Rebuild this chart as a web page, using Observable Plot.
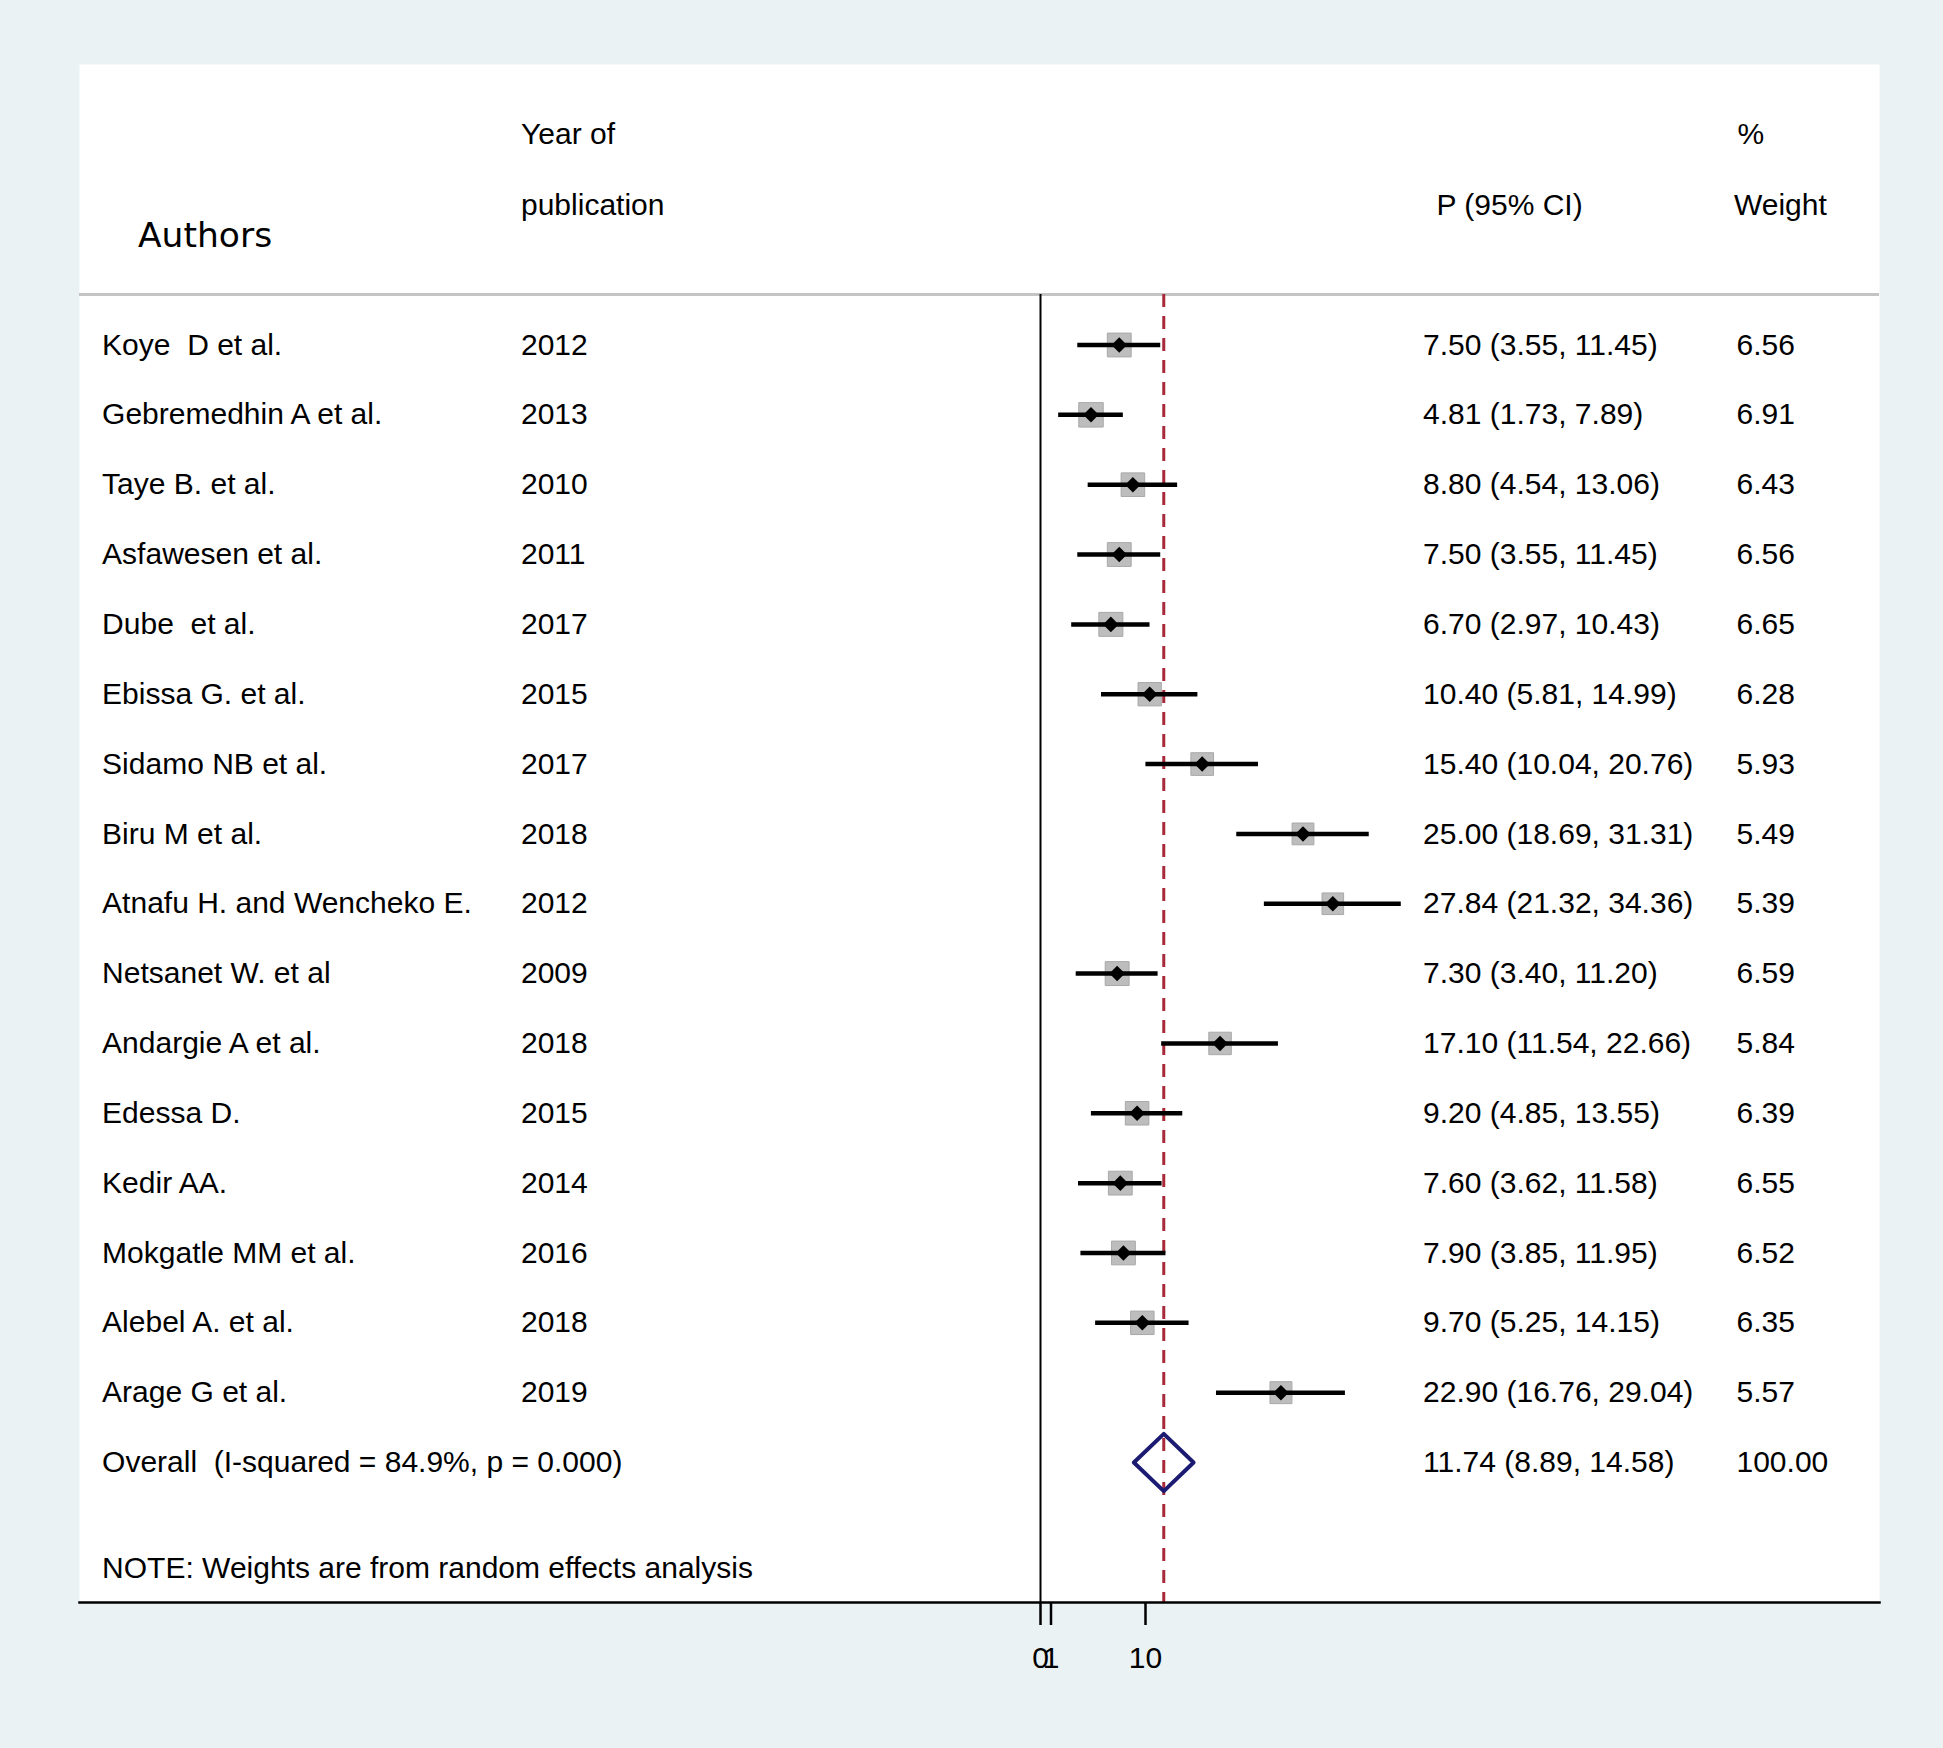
<!DOCTYPE html>
<html>
<head>
<meta charset="utf-8">
<script src="https://cdn.jsdelivr.net/npm/d3@7"></script>
<script src="https://cdn.jsdelivr.net/npm/@observablehq/plot@0.6"></script>
<style>
html, body { margin: 0; padding: 0; background: #eaf2f3; }
#chart svg text { white-space: pre; }
</style>
</head>
<body>
<div id="chart"></div>
<script>
// ---- data ----
const authors = ["Koye  D et al.", "Gebremedhin A et al.", "Taye B. et al.", "Asfawesen et al.", "Dube  et al.",
  "Ebissa G. et al.", "Sidamo NB et al.", "Biru M et al.", "Atnafu H. and Wencheko E.", "Netsanet W. et al",
  "Andargie A et al.", "Edessa D.", "Kedir AA.", "Mokgatle MM et al.", "Alebel A. et al.", "Arage G et al."];
const years = [2012, 2013, 2010, 2011, 2017, 2015, 2017, 2018, 2012, 2009, 2018, 2015, 2014, 2016, 2018, 2019];
const est = [7.50, 4.81, 8.80, 7.50, 6.70, 10.40, 15.40, 25.00, 27.84, 7.30, 17.10, 9.20, 7.60, 7.90, 9.70, 22.90];
const lo  = [3.55, 1.73, 4.54, 3.55, 2.97, 5.81, 10.04, 18.69, 21.32, 3.40, 11.54, 4.85, 3.62, 3.85, 5.25, 16.76];
const hi  = [11.45, 7.89, 13.06, 11.45, 10.43, 14.99, 20.76, 31.31, 34.36, 11.20, 22.66, 13.55, 11.58, 11.95, 14.15, 29.04];
const weights = [6.56, 6.91, 6.43, 6.56, 6.65, 6.28, 5.93, 5.49, 5.39, 6.59, 5.84, 6.39, 6.55, 6.52, 6.35, 5.57];

const overallEst = 11.74, overallLo = 8.89, overallHi = 14.58, overallWeight = 100.00;
const iSquared = 84.9, pValue = "0.000";
const xTicks = [0, 1, 10];
const headerYear = ["Year of", "publication"];
const headerAuthors = "Authors";
const headerCI = "P (95% CI)";
const headerWeight = ["%", "Weight"];
const noteText = "NOTE: Weights are from random effects analysis";

// ---- derived table ----
const fmt = v => v.toFixed(2);
const rows = authors.map((a, i) => ({
  i, author: a, year: String(years[i]), est: est[i], lo: lo[i], hi: hi[i], w: weights[i],
  ci: `${fmt(est[i])} (${fmt(lo[i])}, ${fmt(hi[i])})`, wt: fmt(weights[i])
}));
const oRow = authors.length;
const overall = [{
  i: oRow, label: `Overall  (I-squared = ${iSquared}%, p = ${pValue})`,
  ci: `${fmt(overallEst)} (${fmt(overallLo)}, ${fmt(overallHi)})`, wt: fmt(overallWeight)
}];
const dh = 0.41; // half-height of the summary diamond (row units)
const diamond = [
  {x: overallLo, y: oRow}, {x: overallEst, y: oRow - dh}, {x: overallHi, y: oRow},
  {x: overallEst, y: oRow + dh}, {x: overallLo, y: oRow}
];

const body = {fontFamily: "Liberation Sans, Arial, sans-serif", fontSize: 30, textAnchor: "start"};
const colAuthor = 22.6, colYear = 441.5, colCI = 1343.6, colW = 1657;
const hdr = (text, dx, dy, extra = {}) =>
  Plot.text([text], {text: d => d, frameAnchor: "top-left", dx, dy, lineAnchor: "middle", ...body, ...extra});

const chart = Plot.plot({
  width: 1943,
  height: 1748,
  marginLeft: 79,
  marginRight: 64,
  marginTop: 64,
  marginBottom: 146,
  style: {background: "#eaf2f3", color: "black", fontFamily: "Liberation Sans, Arial, sans-serif", fontSize: "30px"},
  x: {domain: [0, 10], range: [1040, 1145], axis: null},
  y: {domain: [0, oRow], range: [344.5, 1462], axis: null},
  r: {type: "sqrt", domain: [0, 6.91], range: [0, 13.8]},
  marks: [
    Plot.frame({fill: "white", stroke: "none"}),
    // header separator
    Plot.ruleY([0], {dy: -50.5, stroke: "#c4c4c4", strokeWidth: 3}),
    // header labels
    hdr(headerYear[0], colYear, 70),
    hdr(headerYear[1], colYear, 140.5),
    hdr(headerAuthors, 58.5, 171.5, {fontFamily: "DejaVu Sans, sans-serif", fontSize: 34.5}),
    hdr(headerCI, 1357, 140.5),
    hdr(headerWeight[0], 1658, 70),
    hdr(headerWeight[1], 1654.5, 140.5),
    // zero line and overall line
    Plot.ruleX([0], {insetTop: 230, stroke: "black", strokeWidth: 2}),
    Plot.ruleX([overallEst], {insetTop: 230, stroke: "#a82a3a", strokeWidth: 3, strokeDasharray: "13,9"}),
    // study boxes, CIs, points
    Plot.dot(rows, {x: "est", y: "i", r: "w", symbol: "square", fill: "#bdbdbd", stroke: "#a8a8a8", strokeWidth: 1}),
    Plot.ruleY(rows, {y: "i", x1: "lo", x2: "hi", stroke: "black", strokeWidth: 4.5}),
    Plot.dot(rows, {x: "est", y: "i", symbol: "diamond2", r: 7, fill: "black"}),
    // overall diamond
    Plot.line(diamond, {x: "x", y: "y", stroke: "#1b1b72", strokeWidth: 4, strokeLinejoin: "round"}),
    // table columns
    Plot.text(rows, {y: "i", text: "author", frameAnchor: "left", dx: colAuthor, ...body}),
    Plot.text(rows, {y: "i", text: "year", frameAnchor: "left", dx: colYear, ...body}),
    Plot.text(rows, {y: "i", text: "ci", frameAnchor: "left", dx: colCI, ...body}),
    Plot.text(rows, {y: "i", text: "wt", frameAnchor: "left", dx: colW, ...body}),
    Plot.text(overall, {y: "i", text: "label", frameAnchor: "left", dx: colAuthor, ...body}),
    Plot.text(overall, {y: "i", text: "ci", frameAnchor: "left", dx: colCI, ...body}),
    Plot.text(overall, {y: "i", text: "wt", frameAnchor: "left", dx: colW, ...body}),
    Plot.text([noteText], {text: d => d, frameAnchor: "bottom-left", dx: colAuthor, dy: -34, lineAnchor: "middle", ...body}),
    // axis
    Plot.frame({anchor: "bottom", stroke: "black", strokeWidth: 2.5}),
    Plot.axisX({ticks: xTicks, tickSize: 23, tickPadding: 21, strokeWidth: 2.5, fontSize: 30, label: null, anchor: "bottom"})
  ]
});
document.getElementById("chart").appendChild(chart);
</script>
</body>
</html>
